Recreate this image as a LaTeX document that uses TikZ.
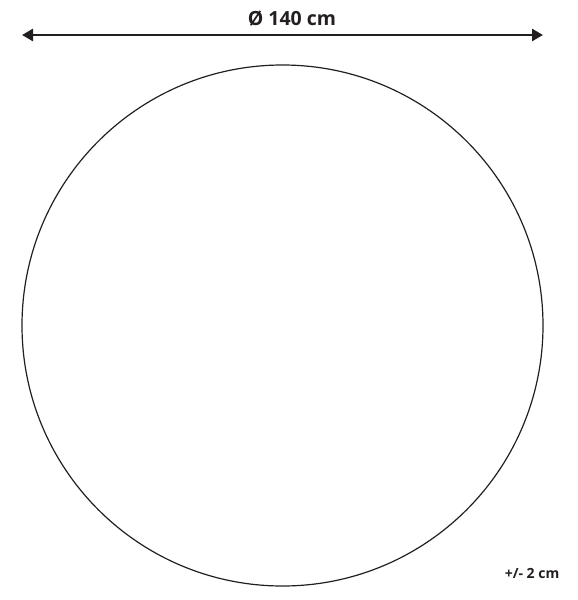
\documentclass[tikz,border=0pt]{standalone}
\usepackage{fontspec}
\setmainfont{Open Sans}
\usepackage{tikz}
\usetikzlibrary{arrows.meta}
\definecolor{inkblack}{HTML}{231F20}

\begin{document}
\begin{tikzpicture}[
        x=1pt, y=-1pt,
        >={Triangle[length=11pt, width=12pt]},
        dim/.style={text=inkblack, font=\fontsize{19.5}{19.5}\selectfont\bfseries, inner sep=0pt, anchor=base},
        tol/.style={text=inkblack, font=\fontsize{14}{14}\selectfont\bfseries, inner sep=0pt, anchor=base},
        rug/.style={draw=inkblack, line width=1.2pt, circle, minimum size=521pt, inner sep=0pt, outer sep=0pt}
    ]
        \useasboundingbox (0,0) rectangle (578,600);
        \node[rug] (rug) at (282.5,325.5) {};
        \coordinate (dimline) at (0,35);

        \draw[<->, inkblack, line width=2.6pt] (rug.west |- dimline) -- (rug.east |- dimline);
        \node[dim] (diam) at (292,25) {Ø 140 cm};
        \node[tol] (tolerance) at (532,578.5) {+/- 2 cm};
    \end{tikzpicture}
\end{document}
